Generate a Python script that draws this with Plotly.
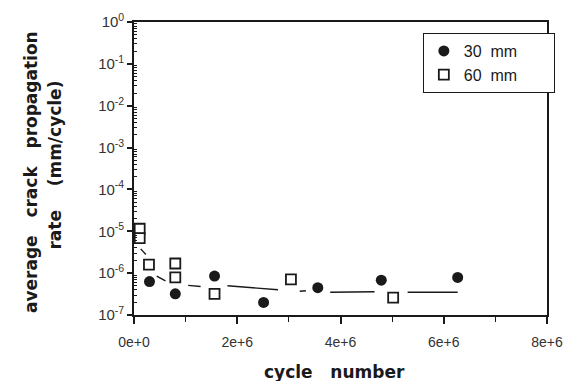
import plotly.graph_objects as go

# ---- data ----
x30 = [0.30e6, 0.80e6, 1.56e6, 2.51e6, 3.56e6, 4.79e6, 6.27e6]
y30 = [6.3e-7, 3.2e-7, 8.5e-7, 2.0e-7, 4.5e-7, 6.8e-7, 7.9e-7]

x60 = [0.11e6, 0.11e6, 0.29e6, 0.80e6, 0.80e6, 1.56e6, 3.04e6, 5.02e6]
y60 = [1.15e-5, 6.9e-6, 1.6e-6, 1.7e-6, 7.9e-7, 3.2e-7, 7.1e-7, 2.6e-7]

# fitted curve, drawn in broken pieces as in the original
fit_x = [0.13e6, 0.23e6, None, 0.44e6, 0.61e6, None, 1.05e6, 1.29e6, None,
         1.81e6, 2.79e6, None, 3.21e6, 3.33e6, None, 3.80e6, 4.66e6, None,
         5.30e6, 6.27e6]
fit_y = [3.8e-6, 2.8e-6, None, 8.5e-7, 6.5e-7, None, 5.1e-7, 4.8e-7, None,
         5.0e-7, 4.0e-7, None, 3.7e-7, 3.8e-7, None, 3.5e-7, 3.6e-7, None,
         3.5e-7, 3.5e-7]

x_tickvals = [0, 2e6, 4e6, 6e6, 8e6]
x_ticktext = ["0e+0", "2e+6", "4e+6", "6e+6", "8e+6"]
y_exponents = [0, -1, -2, -3, -4, -5, -6, -7]

FONT = "Liberation Sans, Arial, sans-serif"
TFONT = "DejaVu Sans, sans-serif"
INK = "#1a1a1a"
NB = "\u00a0"

# the page body adds an 8px offset; figure coordinates below are window px - 8
OFF = 8
W, H = 574 - 2 * OFF, 389 - 2 * OFF
PL, PR, PT, PB = 134 - OFF, 555 - OFF, 22 - OFF, 315 - OFF  # plot box in figure px
PW, PH = PR - PL, PB - PT


def px(xw):
    return (xw - OFF - PL) / PW


def py(yw):
    return (PB - (yw - OFF)) / PH


fig = go.Figure()
fig.add_trace(go.Scatter(x=fit_x, y=fit_y, mode="lines",
                         line=dict(color=INK, width=1.4),
                         showlegend=False, connectgaps=False))
fig.add_trace(go.Scatter(x=x30, y=y30, mode="markers", name="30" + NB * 2 + "mm" + NB * 7,
                         marker=dict(symbol="circle", size=11, color=INK,
                                     line=dict(width=0))))
fig.add_trace(go.Scatter(x=x60, y=y60, mode="markers", name="60" + NB * 2 + "mm" + NB * 7,
                         marker=dict(symbol="square", size=10, color="white",
                                     line=dict(color=INK, width=1.8))))

minor_y = [m * 10.0 ** k for k in range(-7, 0) for m in range(2, 10)]

fig.update_layout(
    width=W, height=H,
    margin=dict(l=PL, r=W - PR, t=PT, b=H - PB),
    paper_bgcolor="white", plot_bgcolor="white",
    font=dict(family=FONT, color=INK, size=12),
    legend=dict(x=px(563), y=py(33), xanchor="right", yanchor="top",
                bordercolor=INK, borderwidth=1, bgcolor="white",
                font=dict(size=16, family=FONT, color=INK),
                tracegroupgap=0),
    xaxis=dict(
        type="linear", range=[0, 8e6], automargin=False,
        tickmode="array", tickvals=x_tickvals, ticktext=x_ticktext,
        ticks="outside", ticklen=7, tickwidth=1.5, tickcolor=INK,
        ticklabelstandoff=6,
        minor=dict(tickmode="linear", tick0=0, dtick=1e6, ticks="outside",
                   ticklen=5, tickwidth=1.2, tickcolor=INK, showgrid=False),
        showline=True, linecolor=INK, linewidth=1.6, mirror=True,
        showgrid=False, zeroline=False,
        tickfont=dict(size=14, family=FONT, color="#333"),
    ),
    yaxis=dict(
        type="log", range=[-7, 0], automargin=False,
        tickmode="array", tickvals=[10.0 ** e for e in y_exponents],
        ticktext=["10<sup>%d</sup>" % e if e == 0 else "10<sup>-%d</sup>" % (-e)
                  for e in y_exponents],
        ticks="outside", ticklen=5, tickwidth=1.5, tickcolor=INK,
        minor=dict(tickmode="array", tickvals=minor_y, ticks="inside",
                   ticklen=3, tickwidth=1, tickcolor=INK, showgrid=False),
        showline=True, linecolor=INK, linewidth=1.6, mirror=True,
        showgrid=False, zeroline=False,
        tickfont=dict(size=15, family=FONT, color="#333"),
    ),
)

# axis titles as annotations
fig.add_annotation(text="<b>cycle" + NB * 3 + "number</b>", xref="paper", yref="paper",
                   x=px(338), y=py(372), yanchor="middle",
                   xanchor="center", showarrow=False,
                   font=dict(size=17, family=TFONT, color=INK))
fig.add_annotation(text="<b>average" + NB * 3 + "crack" + NB * 3 + "propagation</b>",
                   xref="paper", yref="paper",
                   x=px(29), y=py(172), textangle=-90,
                   showarrow=False, xanchor="center", yanchor="middle",
                   font=dict(size=17, family=TFONT, color=INK))
fig.add_annotation(text="<b>rate" + NB * 4 + "(mm/cycle)</b>", xref="paper", yref="paper",
                   x=px(53), y=py(165), textangle=-90,
                   showarrow=False, xanchor="center", yanchor="middle",
                   font=dict(size=17, family=TFONT, color=INK))

fig.write_html("out.html")
